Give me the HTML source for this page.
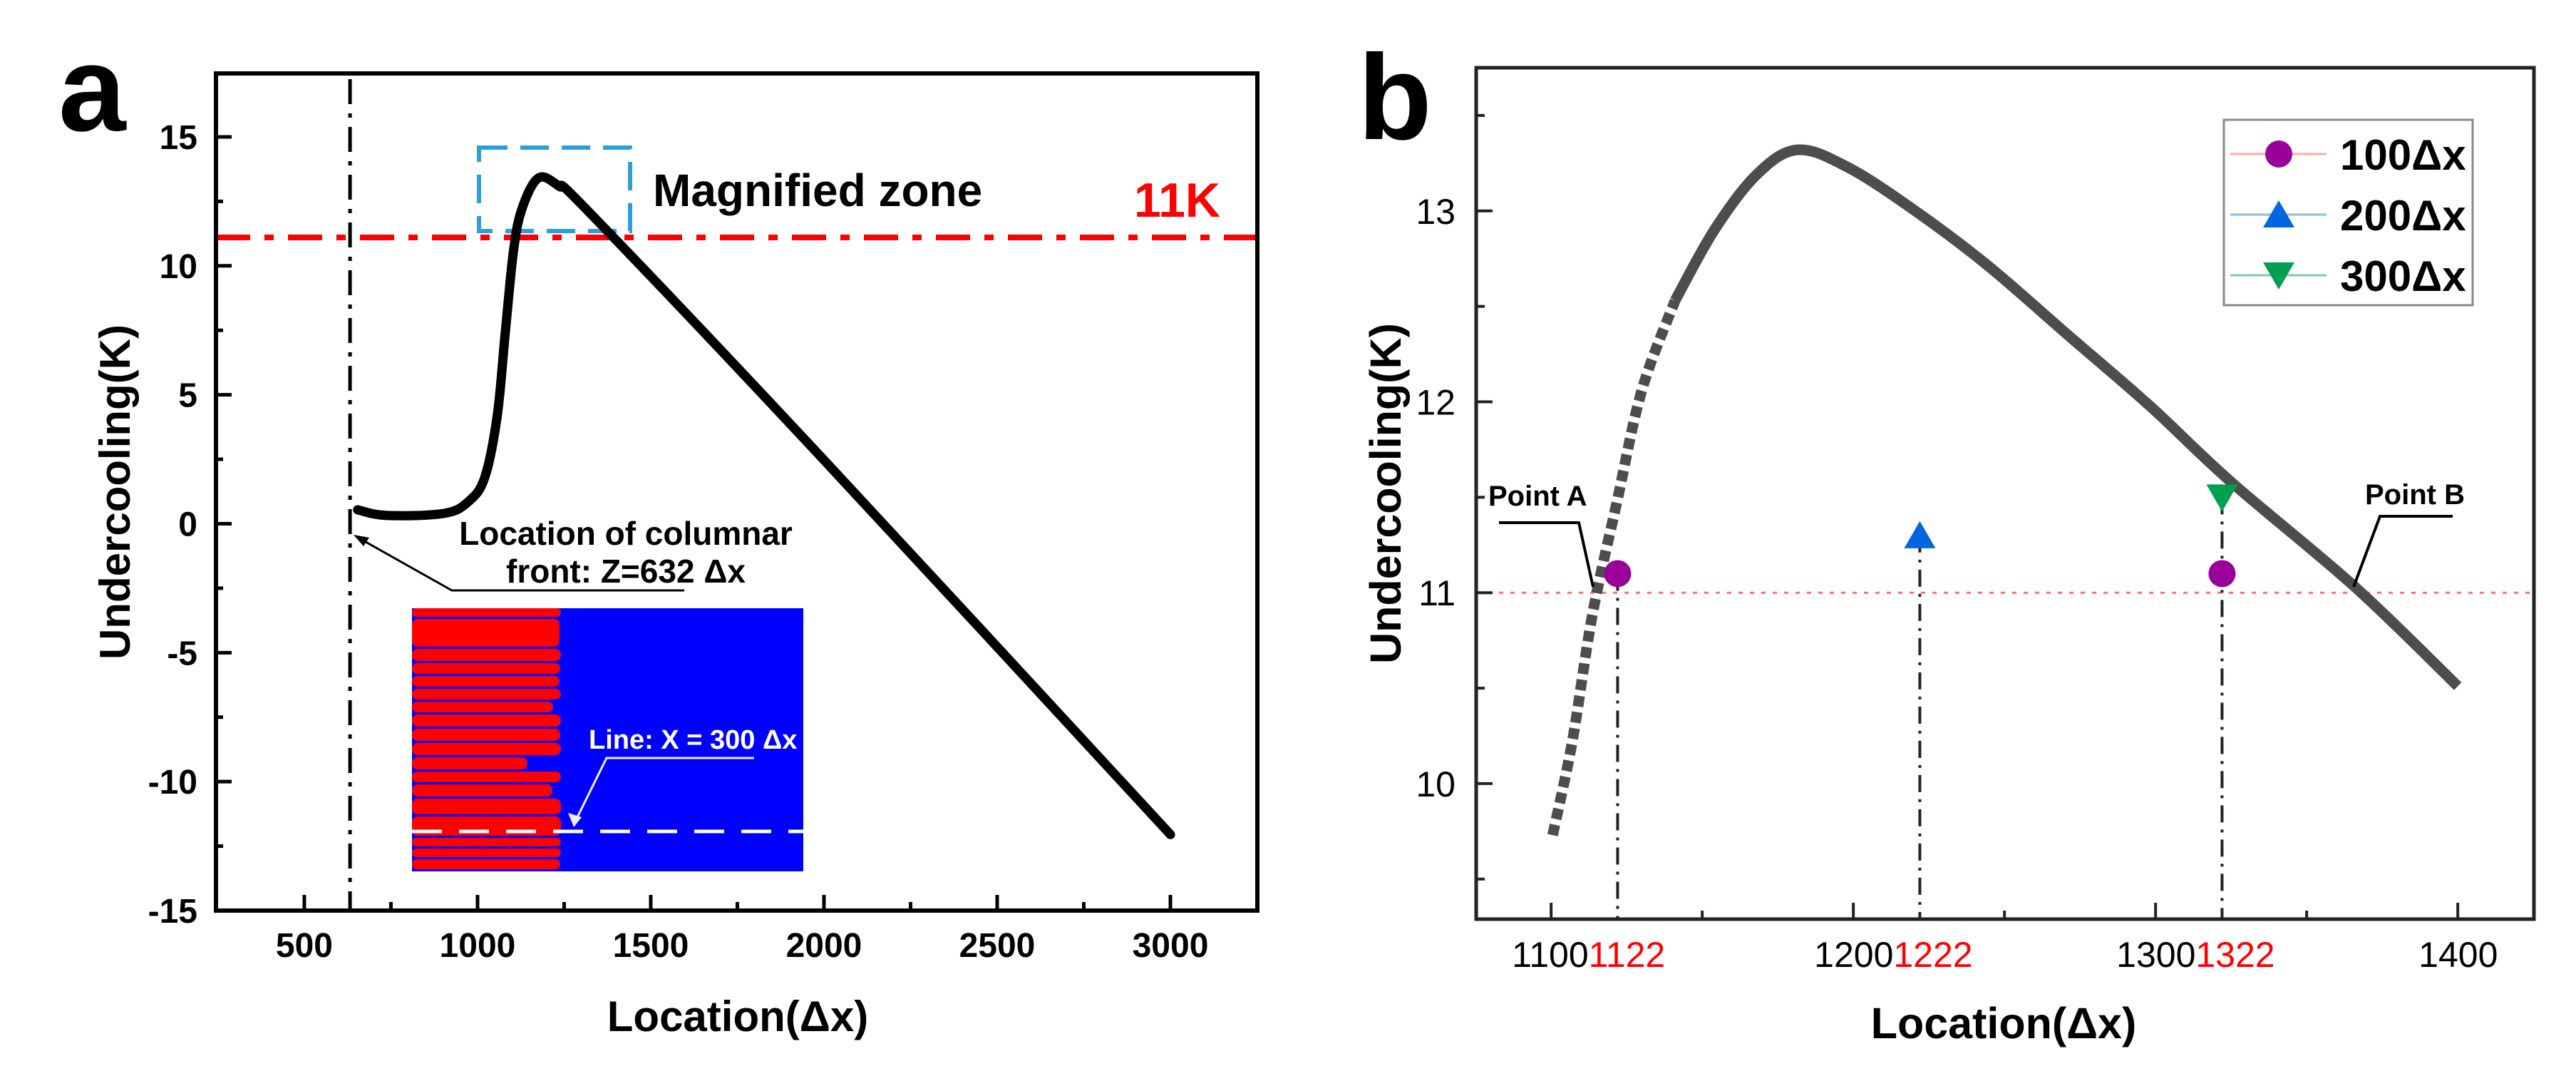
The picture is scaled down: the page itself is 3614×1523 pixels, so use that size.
<!DOCTYPE html>
<html><head><meta charset="utf-8"><style>
html,body{margin:0;padding:0;background:#fff;}
svg{display:block;font-family:"Liberation Sans",Arial,sans-serif;}
</style></head><body>
<svg id="fig" width="3614" height="1523" viewBox="0 0 3614 1523" xmlns="http://www.w3.org/2000/svg">
<rect width="3614" height="1523" fill="#fff"/>
<g id="pa"></g>
<g id="pb"></g>
</svg>
<script>
// ---------- Panel A data ----------
const aX = [654, 737, 903, 974, 1021, 1057, 1080, 1104, 1128, 1175, 1234, 1328, 1991, 3000];
const aY = [0.54, 0.32, 0.40, 0.86, 1.8, 4.2, 7.4, 10.6, 12.2, 13.4, 13.1, 12.0, 2.6, -12.05];
const aXTicks = [500, 1000, 1500, 2000, 2500, 3000];
const aXTickLabels = ["500", "1000", "1500", "2000", "2500", "3000"];
const aYTicks = [-15, -10, -5, 0, 5, 10, 15];
const aYTickLabels = ["-15", "-10", "-5", "0", "5", "10", "15"];
const aThreshold = [11.1];
const aFront = [632];
// ---------- Panel B data ----------
const bX = [1100.5, 1107, 1113.6, 1121.7, 1130, 1141, 1154, 1168, 1181.5, 1198, 1219.6, 1244, 1271, 1298, 1325, 1366, 1400];
const bY = [9.73, 10.22, 10.88, 11.47, 12.06, 12.53, 12.9, 13.19, 13.32, 13.23, 13.01, 12.72, 12.35, 11.98, 11.58, 11.03, 10.51];
const bXTicks = [1100, 1200, 1300, 1400];
const bXTickLabels = ["1100", "1200", "1300", "1400"];
const bXRedLabels = ["1122", "1222", "1322", ""];
const bYTicks = [10, 11, 12, 13];
const bYTickLabels = ["10", "11", "12", "13"];
const bCircleX = [1122, 1322];
const bCircleY = [11.1, 11.1];
const bUpX = [1222];
const bUpY = [11.3];
const bDownX = [1322];
const bDownY = [11.5];
const bVLines = [1122, 1222, 1322];
const bVLineTop = [11.1, 11.3, 11.5];
const bRef = [11];
const legendLabels = ["100Δx", "200Δx", "300Δx"];

const NS = "http://www.w3.org/2000/svg";
function mk(parent, tag, attrs, text) {
  const e = document.createElementNS(NS, tag);
  for (const k in attrs) e.setAttribute(k, attrs[k]);
  if (text !== undefined) e.textContent = text;
  parent.appendChild(e);
  return e;
}
function smoothPath(pts) {
  let d = "M" + pts[0][0] + "," + pts[0][1];
  for (let i = 0; i < pts.length - 1; i++) {
    const p0 = pts[i - 1] || pts[i], p1 = pts[i], p2 = pts[i + 1], p3 = pts[i + 2] || p2;
    const c1x = p1[0] + (p2[0] - p0[0]) / 6, c1y = p1[1] + (p2[1] - p0[1]) / 6;
    const c2x = p2[0] - (p3[0] - p1[0]) / 6, c2y = p2[1] - (p3[1] - p1[1]) / 6;
    d += " C" + c1x + "," + c1y + " " + c2x + "," + c2y + " " + p2[0] + "," + p2[1];
  }
  return d;
}

// ===== Panel A =====
const A = document.getElementById("pa");
const aL = 303, aR = 1764, aT = 103, aB = 1277;
const axMin = 245, axMax = 3251, ayMin = -15, ayMax = 17.46;
const ax = v => aL + (v - axMin) / (axMax - axMin) * (aR - aL);
const ay = v => aB - (v - ayMin) / (ayMax - ayMin) * (aB - aT);

let t = mk(A, "text", {x: 82, y: 183, "font-size": 170, "font-weight": "bold"}, "a");



// inset image
const ins = mk(A, "g", {});


mk(ins, "rect", {x: 578, y: 853, width: 549, height: 369, fill: "#0000ff"});
const bandTops = [853, 868, 910, 930, 948, 966, 984, 1002, 1022, 1042, 1062, 1082, 1100, 1120, 1145, 1175, 1190, 1205];
const bandEnds = [787, 785, 787, 786, 785, 787, 776, 787, 786, 787, 740, 787, 775, 787, 787, 787, 787, 786];
for (let i = 0; i < bandTops.length; i++) {
  const h = (i + 1 < bandTops.length ? bandTops[i + 1] : 1222) - bandTops[i] - 3;
  const r = mk(ins, "rect", {x: 578, y: bandTops[i], width: bandEnds[i] - 578, height: h, rx: Math.min(8, h / 2), fill: "#ff0000"});
  
  
}
mk(ins, "line", {x1: 578, y1: 1166, x2: 1127, y2: 1166, stroke: "#fff", "stroke-width": 5, "stroke-dasharray": "42 24"});
t = mk(ins, "text", {x: 826, y: 1050, "font-size": 38, "font-weight": "bold", fill: "#fff"}, "Line: X = 300 Δx");


mk(ins, "polyline", {points: "1058,1063 851,1063 808,1150", fill: "none", stroke: "#eef", "stroke-width": 3});
mk(ins, "polygon", {points: "805,1160 797,1140 816,1146", fill: "#eef"});

// threshold line
let e = mk(A, "line", {x1: aL, y1: ay(aThreshold[0]), x2: aR, y2: ay(aThreshold[0]), stroke: "#ff0000", "stroke-width": 8, "stroke-dasharray": "48 20 13 20"});


t = mk(A, "text", {x: 1591, y: 304, "font-size": 68, "font-weight": "bold", fill: "#ff0000"}, "11K");



// columnar front line
e = mk(A, "line", {x1: ax(aFront[0]), y1: aT + 8, x2: ax(aFront[0]), y2: aB, stroke: "#000", "stroke-width": 5, "stroke-dasharray": "35 13 6 13"});



// magnified zone box
e = mk(A, "rect", {x: 672, y: 207, width: 212, height: 117, fill: "none", stroke: "#2a9fdc", "stroke-width": 6, "stroke-dasharray": "40 18"});


t = mk(A, "text", {x: 916, y: 289, "font-size": 64, "font-weight": "bold"}, "Magnified zone");



// curve
const aPts = aX.map((v, i) => [ax(v), ay(aY[i])]);
e = mk(A, "path", {d: smoothPath(aPts), fill: "none", stroke: "#000", "stroke-width": 13, "stroke-linecap": "round", "stroke-linejoin": "round"});



// annotation
t = mk(A, "text", {x: 878, y: 764, "font-size": 46, "font-weight": "bold", "text-anchor": "middle"}, "Location of columnar");


t = mk(A, "text", {x: 878, y: 817, "font-size": 46, "font-weight": "bold", "text-anchor": "middle"}, "front: Z=632 Δx");


e = mk(A, "polyline", {points: "960,828 634,828 506,756", fill: "none", stroke: "#000", "stroke-width": 3});


mk(A, "polygon", {points: "496,750 518,754 510,766", fill: "#000"});

// axes
e = mk(A, "rect", {x: aL, y: aT, width: aR - aL, height: aB - aT, fill: "none", stroke: "#000", "stroke-width": 6});


aXTicks.forEach((v, i) => {
  mk(A, "line", {x1: ax(v), y1: aB, x2: ax(v), y2: aB - 22, stroke: "#000", "stroke-width": 5});
  if (v + 250 < axMax) mk(A, "line", {x1: ax(v + 250), y1: aB, x2: ax(v + 250), y2: aB - 12, stroke: "#000", "stroke-width": 5});
  const l = mk(A, "text", {x: ax(v), y: 1342, "font-size": 48, "font-weight": "bold", "text-anchor": "middle"}, aXTickLabels[i]);
  
  
});
aYTicks.forEach((v, i) => {
  mk(A, "line", {x1: aL, y1: ay(v), x2: aL + 22, y2: ay(v), stroke: "#000", "stroke-width": 5});
  if (v + 2.5 < ayMax) mk(A, "line", {x1: aL, y1: ay(v + 2.5), x2: aL + 10, y2: ay(v + 2.5), stroke: "#000", "stroke-width": 5});
  const l = mk(A, "text", {x: 277, y: ay(v) + 17, "font-size": 48, "font-weight": "bold", "text-anchor": "end"}, aYTickLabels[i]);
  
  
});
t = mk(A, "text", {x: 1035, y: 1446, "font-size": 60, "font-weight": "bold", "text-anchor": "middle"}, "Location(Δx)");


t = mk(A, "text", {x: 182, y: 690, "font-size": 60, "font-weight": "bold", "text-anchor": "middle", transform: "rotate(-90 182 690)"}, "Undercooling(K)");



// ===== Panel B =====
const B = document.getElementById("pb");
const bL = 2071, bR = 3555, bT = 95, bB = 1289;
const bxMin = 1075.2, bxMax = 1425.2, byMin = 9.29, byMax = 13.75;
const bx = v => bL + (v - bxMin) / (bxMax - bxMin) * (bR - bL);
const by = v => bB - (v - byMin) / (byMax - byMin) * (bB - bT);

t = mk(B, "text", {x: 1905, y: 195, "font-size": 170, "font-weight": "bold"}, "b");



e = mk(B, "line", {x1: bL, y1: by(bRef[0]), x2: bR, y2: by(bRef[0]), stroke: "#ff7070", "stroke-width": 3, "stroke-dasharray": "6 10"});



bVLines.forEach((v, i) => {
  const l = mk(B, "line", {x1: bx(v), y1: by(bVLineTop[i]), x2: bx(v), y2: bB, stroke: "#222", "stroke-width": 4, "stroke-dasharray": "24 10 4 10"});
  
  
});

// curve: dashed (sparse squares) then solid
const bPts = bX.map((v, i) => [bx(v), by(bY[i])]);
let split = bX.findIndex(v => v >= 1141);
const early = bPts.slice(0, split + 1), late = bPts.slice(split);
e = mk(B, "path", {d: smoothPath(early), fill: "none", stroke: "#4d4d4d", "stroke-width": 15, "stroke-dasharray": "15 8"});


e = mk(B, "path", {d: smoothPath(late), fill: "none", stroke: "#4d4d4d", "stroke-width": 15});



bCircleX.forEach((v, i) => {
  const c = mk(B, "circle", {cx: bx(v), cy: by(bCircleY[i]), r: 19, fill: "#990099"});
  
  
});
bUpX.forEach((v, i) => {
  const X = bx(v), Y = by(bUpY[i]);
  const p = mk(B, "polygon", {points: `${X},${Y - 20} ${X - 22},${Y + 18} ${X + 22},${Y + 18}`, fill: "#0066dd"});
  
  
});
bDownX.forEach((v, i) => {
  const X = bx(v), Y = by(bDownY[i]);
  const p = mk(B, "polygon", {points: `${X},${Y + 20} ${X - 22},${Y - 18} ${X + 22},${Y - 18}`, fill: "#00a050"});
  
  
});

// point labels
t = mk(B, "text", {x: 2088, y: 709, "font-size": 40, "font-weight": "bold"}, "Point A");


e = mk(B, "polyline", {points: "2103,733 2215,733 2235,823", fill: "none", stroke: "#000", "stroke-width": 4});


t = mk(B, "text", {x: 3318, y: 707, "font-size": 40, "font-weight": "bold"}, "Point B");


e = mk(B, "polyline", {points: "3441,724 3339,724 3302,823", fill: "none", stroke: "#000", "stroke-width": 4});



// legend
const lg = mk(B, "g", {});


mk(lg, "rect", {x: 3120, y: 168, width: 349, height: 260, fill: "#fff", stroke: "#888", "stroke-width": 3});
const legColors = ["#ffaaaa", "#88bbee", "#77ccaa"];
const legMark = ["#990099", "#0066dd", "#00a050"];
legendLabels.forEach((s, i) => {
  const Y = 216 + i * 85;
  const g = mk(lg, "g", {});
  
  
  mk(g, "line", {x1: 3129, y1: Y, x2: 3264, y2: Y, stroke: legColors[i], "stroke-width": 3});
  if (i === 0) mk(g, "circle", {cx: 3197, cy: Y, r: 19, fill: legMark[i]});
  if (i === 1) mk(g, "polygon", {points: `3197,${Y - 20} 3175,${Y + 18} 3219,${Y + 18}`, fill: legMark[i]});
  if (i === 2) mk(g, "polygon", {points: `3197,${Y + 20} 3175,${Y - 18} 3219,${Y - 18}`, fill: legMark[i]});
  mk(g, "text", {x: 3283, y: Y + 22, "font-size": 60, "font-weight": "bold"}, s);
});

// axes
e = mk(B, "rect", {x: bL, y: bT, width: bR - bL, height: bB - bT, fill: "none", stroke: "#222", "stroke-width": 5});


bXTicks.forEach((v, i) => {
  mk(B, "line", {x1: bx(v), y1: bB, x2: bx(v), y2: bB - 23, stroke: "#222", "stroke-width": 4});
  if (v + 50 < bxMax) mk(B, "line", {x1: bx(v + 50), y1: bB, x2: bx(v + 50), y2: bB - 12, stroke: "#222", "stroke-width": 4});
  const l = mk(B, "text", {x: bx(v) - 55, y: 1356, "font-size": 50}, "");
  
  
  mk(l, "tspan", {}, bXTickLabels[i]);
  mk(l, "tspan", {fill: "#ff0000"}, bXRedLabels[i]);
});
[9.5, 10, 10.5, 11, 11.5, 12, 12.5, 13, 13.5].forEach(v => {
  const major = Number.isInteger(v);
  mk(B, "line", {x1: bL, y1: by(v), x2: bL + (major ? 23 : 12), y2: by(v), stroke: "#222", "stroke-width": 4});
});
bYTicks.forEach((v, i) => {
  const l = mk(B, "text", {x: 2042, y: by(v) + 18, "font-size": 50, "text-anchor": "end"}, bYTickLabels[i]);
  
  
});
t = mk(B, "text", {x: 2811, y: 1456, "font-size": 61, "font-weight": "bold", "text-anchor": "middle"}, "Location(Δx)");


t = mk(B, "text", {x: 1965, y: 692, "font-size": 61, "font-weight": "bold", "text-anchor": "middle", transform: "rotate(-90 1965 692)"}, "Undercooling(K)");


</script>
</body></html>
